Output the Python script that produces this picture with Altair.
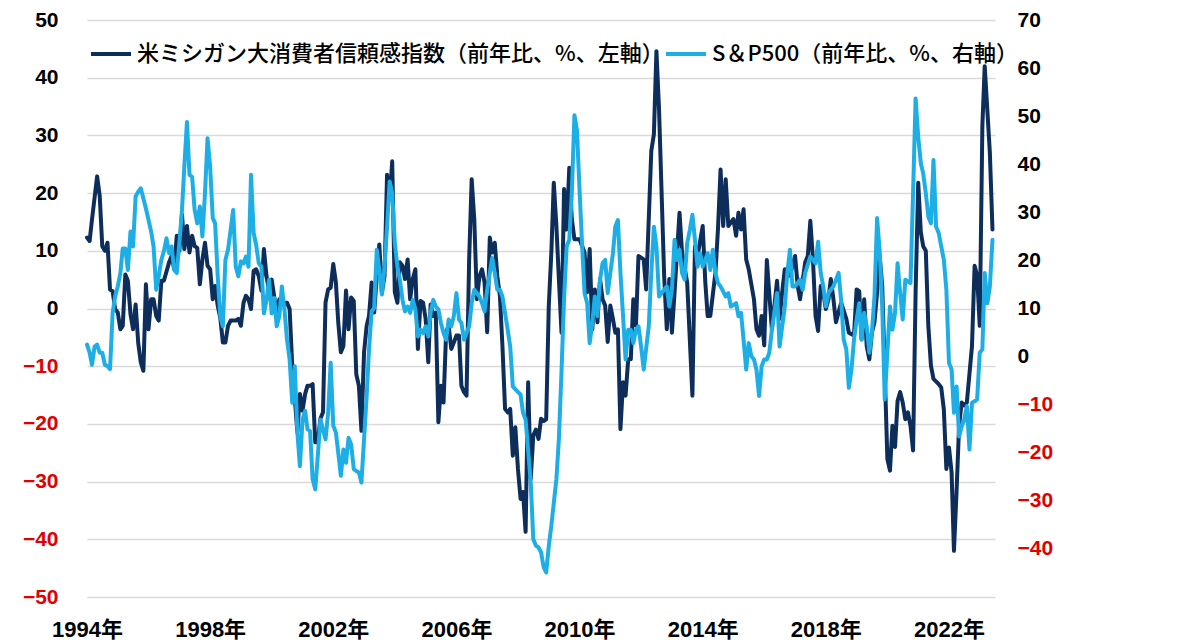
import altair as alt
import pandas as pd

MICH_LABEL = "米ミシガン大消費者信頼感指数（前年比、%、左軸）"
SPX_LABEL = "S＆P500（前年比、%、右軸）"

# (month, YoY %) – Michigan consumer sentiment (left axis)
michigan = [
    ("1994-01", 12.3), ("1994-02", 11.7), ("1994-03", 15.4), ("1994-05", 22.9), ("1994-06", 19.5),
    ("1994-07", 10.8), ("1994-08", 10.0), ("1994-09", 11.4), ("1994-10", 3.3), ("1994-11", 3.0),
    ("1994-12", -0.1), ("1995-01", -0.7), ("1995-02", -3.6), ("1995-03", -3.0), ("1995-04", 5.9),
    ("1995-05", 4.8), ("1995-06", -1.0), ("1995-07", -3.6), ("1995-08", 0.7), ("1995-09", -6.0),
    ("1995-10", -9.3), ("1995-11", -10.8), ("1995-12", 4.2), ("1996-01", -3.6), ("1996-02", 1.6),
    ("1996-03", 1.6), ("1996-04", -1.3), ("1996-05", -2.1), ("1996-06", 4.8), ("1996-07", 4.8),
    ("1996-09", 8.0), ("1996-10", 9.1), ("1996-11", 6.8), ("1996-12", 12.6), ("1997-01", 10.0),
    ("1997-02", 16.3), ("1997-03", 10.3), ("1997-04", 14.3), ("1997-05", 9.7), ("1997-06", 12.6),
    ("1997-07", 10.8), ("1997-08", 10.5), ("1997-09", 4.2), ("1997-10", 8.5), ("1997-11", 11.4),
    ("1997-12", 7.4), ("1998-01", 6.8), ("1998-02", 1.6), ("1998-03", 3.9), ("1998-04", 0.5),
    ("1998-05", -1.6), ("1998-06", -5.9), ("1998-07", -5.9), ("1998-08", -3.0), ("1998-09", -2.1),
    ("1998-11", -2.1), ("1998-12", -1.8), ("1999-01", -3.0), ("1999-02", 1.0), ("1999-03", 2.2),
    ("1999-04", 1.6), ("1999-05", -0.1), ("1999-06", 6.5), ("1999-07", 6.8), ("1999-08", 5.6),
    ("1999-09", 3.1), ("1999-10", 10.3), ("1999-11", 5.6), ("1999-12", 3.0), ("2000-01", 5.0),
    ("2000-02", 2.0), ("2000-03", -0.7), ("2000-04", 1.6), ("2000-05", 1.0), ("2000-07", 1.0),
    ("2000-08", -0.1), ("2000-09", -9.9), ("2000-11", -21.4), ("2000-12", -14.8), ("2001-01", -17.7),
    ("2001-02", -14.8), ("2001-03", -13.4), ("2001-04", -13.4), ("2001-05", -13.1), ("2001-06", -23.2),
    ("2001-07", -23.2), ("2001-08", -19.1), ("2001-09", -18.0), ("2001-10", 1.0), ("2001-11", 3.3),
    ("2001-12", 3.6), ("2002-01", 7.7), ("2002-02", 4.5), ("2002-03", -2.4), ("2002-04", -7.6),
    ("2002-05", -6.5), ("2002-06", 3.1), ("2002-07", -3.6), ("2002-08", 1.9), ("2002-09", 1.3),
    ("2002-10", -11.4), ("2002-11", -13.4), ("2002-12", -21.2), ("2003-01", -7.6), ("2003-02", -3.0),
    ("2003-03", -1.3), ("2003-04", 4.5), ("2003-05", -0.7), ("2003-06", 5.6), ("2003-07", 11.1),
    ("2003-08", 2.8), ("2003-09", 5.6), ("2003-10", 23.2), ("2003-11", 18.9), ("2003-12", 25.5),
    ("2004-01", 2.8), ("2004-02", 1.0), ("2004-03", 8.0), ("2004-04", 7.4), ("2004-05", 5.1),
    ("2004-06", 8.5), ("2004-07", 1.6), ("2004-08", 5.1), ("2004-09", 6.8), ("2004-10", -7.0),
    ("2004-11", 1.3), ("2004-12", 1.0), ("2005-01", -1.8), ("2005-02", -9.3), ("2005-03", 0.7),
    ("2005-04", -1.3), ("2005-05", -0.7), ("2005-06", -19.7), ("2005-07", -13.4), ("2005-08", -16.3),
    ("2005-09", -4.1), ("2005-10", -3.0), ("2005-11", -7.0), ("2005-12", -5.9), ("2006-01", -4.7),
    ("2006-02", -4.7), ("2006-03", -13.4), ("2006-04", -14.5), ("2006-05", -15.1), ("2006-06", 8.5),
    ("2006-07", 22.4), ("2006-08", 15.4), ("2006-09", 1.6), ("2006-10", 5.6), ("2006-11", 6.8),
    ("2006-12", 4.5), ("2007-01", -4.1), ("2007-02", 12.3), ("2007-03", 9.7), ("2007-04", 11.4),
    ("2007-05", 5.6), ("2007-06", 2.2), ("2007-07", -6.5), ("2007-08", -17.4), ("2007-09", -18.0),
    ("2007-10", -17.4), ("2007-11", -25.5), ("2007-12", -20.6), ("2008-01", -27.8), ("2008-02", -33.0),
    ("2008-03", -31.8), ("2008-04", -38.7), ("2008-05", -12.8), ("2008-06", -29.5), ("2008-07", -22.0),
    ("2008-08", -21.0), ("2008-09", -22.6), ("2008-10", -19.1), ("2008-11", -19.5), ("2008-12", -19.2),
    ("2009-01", 0.5), ("2009-02", 10.0), ("2009-03", 21.8), ("2009-04", 14.3), ("2009-05", 5.0),
    ("2009-06", -4.2), ("2009-07", 20.7), ("2009-08", 13.7), ("2009-09", 24.4), ("2009-10", 15.5),
    ("2009-11", 12.0), ("2010-01", 12.0), ("2010-03", 9.7), ("2010-04", 2.8), ("2010-05", 10.3),
    ("2010-06", -3.6), ("2010-07", 3.3), ("2010-08", -2.4), ("2010-09", 5.1), ("2010-10", 1.6),
    ("2010-11", 0.5), ("2010-12", -5.8), ("2011-01", 0.5), ("2011-02", -1.8), ("2011-03", -4.2),
    ("2011-04", -3.6), ("2011-05", -20.9), ("2011-06", -12.8), ("2011-07", -15.1), ("2011-08", -8.8),
    ("2011-09", -8.8), ("2011-10", 1.6), ("2011-11", -3.0), ("2011-12", 9.1), ("2012-02", 8.5),
    ("2012-03", 3.3), ("2012-05", 27.3), ("2012-06", 30.2), ("2012-07", 44.6), ("2012-08", 34.5),
    ("2012-10", 5.5), ("2012-11", -3.6), ("2012-12", 5.1), ("2013-01", -4.2), ("2013-02", 2.8),
    ("2013-04", 16.6), ("2013-05", 9.7), ("2013-07", 4.5), ("2013-09", -15.1), ("2013-10", 10.8),
    ("2013-11", 9.1), ("2014-01", 14.3), ("2014-02", 4.5), ("2014-03", -1.3), ("2014-04", -1.3),
    ("2014-06", 6.2), ("2014-07", 13.7), ("2014-08", 24.1), ("2014-09", 14.3), ("2014-10", 22.4),
    ("2014-11", 14.3), ("2015-01", 15.5), ("2015-02", 12.6), ("2015-03", 16.6), ("2015-04", 13.7),
    ("2015-05", 17.2), ("2015-06", 8.5), ("2015-07", 6.8), ("2015-09", 1.6), ("2015-10", -3.6),
    ("2015-11", -4.7), ("2015-12", -1.3), ("2016-01", -6.4), ("2016-02", 8.4), ("2016-04", -3.6),
    ("2016-06", 4.8), ("2016-07", -1.8), ("2016-08", 2.8), ("2016-09", 6.8), ("2016-10", 6.2),
    ("2016-11", 5.7), ("2017-01", 9.1), ("2017-02", 3.9), ("2017-03", 1.6), ("2017-05", 8.0),
    ("2017-06", 9.1), ("2017-07", 15.2), ("2017-08", 8.5), ("2017-09", -1.3), ("2017-10", -3.9),
    ("2017-11", 3.9), ("2017-12", 2.8), ("2018-01", -0.1), ("2018-02", 1.6), ("2018-03", 5.1),
    ("2018-04", 1.6), ("2018-05", -2.4), ("2018-07", 1.0), ("2018-09", -1.8), ("2018-10", -4.2),
    ("2018-12", -4.7), ("2019-01", 3.3), ("2019-02", 3.0), ("2019-03", -5.3), ("2019-04", 1.6),
    ("2019-05", -6.5), ("2019-06", -8.8), ("2019-07", -4.2), ("2019-08", -2.4), ("2019-09", 2.8),
    ("2019-10", 9.1), ("2019-11", 3.9), ("2020-01", -26.1), ("2020-02", -28.1), ("2020-03", -20.3),
    ("2020-04", -24.0), ("2020-05", -16.0), ("2020-06", -14.5), ("2020-07", -16.3), ("2020-08", -19.2),
    ("2020-09", -18.0), ("2020-10", -20.3), ("2020-11", -24.6), ("2020-12", 2.8), ("2021-01", 21.8),
    ("2021-02", 13.2), ("2021-03", 10.8), ("2021-04", 10.0), ("2021-05", -3.0), ("2021-06", -9.9),
    ("2021-07", -12.2), ("2021-09", -13.1), ("2021-10", -13.7), ("2021-11", -17.5), ("2021-12", -27.8),
    ("2022-01", -24.1), ("2022-02", -28.4), ("2022-03", -42.0), ("2022-04", -31.7), ("2022-05", -20.3),
    ("2022-06", -16.3), ("2022-07", -16.8), ("2022-08", -16.3), ("2022-10", -6.5), ("2022-11", 7.4),
    ("2022-12", 5.7), ("2023-01", -3.0), ("2023-02", 31.6), ("2023-03", 42.0), ("2023-05", 27.0),
    ("2023-06", 13.7),
]

# (month, YoY %) – S&P500 (right axis)
sp500 = [
    ("1994-01", 2.5), ("1994-02", 0.8), ("1994-03", -1.7), ("1994-04", 2.1), ("1994-05", 2.5),
    ("1994-06", 0.8), ("1994-07", 0.8), ("1994-08", -1.7), ("1994-09", -2.0), ("1994-10", -2.6),
    ("1994-11", 9.1), ("1994-12", 12.5), ("1995-01", 14.6), ("1995-02", 17.4), ("1995-03", 22.5),
    ("1995-04", 22.5), ("1995-05", 18.0), ("1995-06", 26.0), ("1995-07", 22.9), ("1995-08", 33.3),
    ("1995-09", 34.3), ("1995-10", 35.0), ("1995-12", 30.8), ("1996-01", 28.4), ("1996-02", 26.0),
    ("1996-03", 22.9), ("1996-04", 13.9), ("1996-05", 16.7), ("1996-06", 20.1), ("1996-07", 21.9),
    ("1996-08", 24.6), ("1996-09", 21.5), ("1996-10", 22.9), ("1996-11", 18.0), ("1996-12", 17.4),
    ("1997-01", 23.6), ("1997-02", 30.5), ("1997-03", 39.5), ("1997-04", 48.8), ("1997-05", 37.8),
    ("1997-06", 37.4), ("1997-07", 30.5), ("1997-08", 27.7), ("1997-09", 31.2), ("1997-10", 25.0),
    ("1997-11", 34.0), ("1997-12", 45.4), ("1998-01", 39.5), ("1998-02", 28.8), ("1998-03", 27.7),
    ("1998-04", 16.7), ("1998-05", 8.4), ("1998-06", 6.3), ("1998-07", 20.1), ("1998-08", 22.2),
    ("1998-09", 26.3), ("1998-10", 30.5), ("1998-11", 18.7), ("1998-12", 16.7), ("1999-01", 19.8),
    ("1999-02", 19.4), ("1999-03", 20.8), ("1999-04", 18.7), ("1999-05", 37.8), ("1999-06", 25.7),
    ("1999-07", 23.2), ("1999-08", 19.4), ("1999-09", 18.7), ("1999-10", 9.0), ("1999-11", 11.8),
    ("1999-12", 16.0), ("2000-01", 9.0), ("2000-02", 12.2), ("2000-03", 6.3), ("2000-04", 8.4),
    ("2000-05", 14.6), ("2000-06", 9.7), ("2000-07", 3.5), ("2000-08", -0.6), ("2000-09", -9.6),
    ("2000-10", -2.0), ("2000-11", -15.8), ("2000-12", -22.8), ("2001-01", -13.1), ("2001-02", -11.3),
    ("2001-03", -15.1), ("2001-04", -15.5), ("2001-05", -25.5), ("2001-06", -27.6), ("2001-07", -20.7),
    ("2001-08", -13.1), ("2001-10", -17.2), ("2001-11", -11.7), ("2001-12", -1.3), ("2002-01", -14.4),
    ("2002-02", -15.8), ("2002-03", -20.0), ("2002-04", -24.8), ("2002-05", -19.3), ("2002-06", -22.1),
    ("2002-07", -16.9), ("2002-08", -18.3), ("2002-09", -23.4), ("2002-10", -23.8), ("2002-11", -24.1),
    ("2002-12", -26.2), ("2003-01", -17.2), ("2003-02", -8.2), ("2003-03", 1.5), ("2003-04", 9.4),
    ("2003-05", 10.1), ("2003-06", 22.2), ("2003-07", 18.0), ("2003-08", 12.9), ("2003-09", 18.7),
    ("2003-10", 27.0), ("2003-11", 36.4), ("2003-12", 34.0), ("2004-01", 23.6), ("2004-02", 18.7),
    ("2004-03", 16.0), ("2004-04", 11.8), ("2004-05", 9.4), ("2004-06", 10.4), ("2004-07", 9.1),
    ("2004-08", 11.8), ("2004-09", 9.8), ("2004-10", 4.2), ("2004-11", 5.6), ("2004-12", 4.9),
    ("2005-01", 6.3), ("2005-02", 4.2), ("2005-03", 9.1), ("2005-04", 11.8), ("2005-05", 10.4),
    ("2005-06", 9.8), ("2005-07", 7.0), ("2005-08", 4.9), ("2005-09", 3.5), ("2005-10", 7.7),
    ("2005-11", 6.3), ("2005-12", 8.4), ("2006-01", 13.2), ("2006-02", 7.7), ("2006-03", 7.0),
    ("2006-04", 3.5), ("2006-06", 6.3), ("2006-07", 11.1), ("2006-08", 13.9), ("2006-10", 12.5),
    ("2006-11", 11.1), ("2006-12", 9.4), ("2007-01", 13.9), ("2007-03", 20.5), ("2007-04", 17.4),
    ("2007-05", 13.9), ("2007-06", 13.9), ("2007-07", 12.5), ("2007-09", 5.6), ("2007-10", 2.1),
    ("2007-11", -6.2), ("2007-12", -6.8), ("2008-02", -7.9), ("2008-03", -11.7), ("2008-04", -13.1),
    ("2008-06", -26.2), ("2008-07", -38.0), ("2008-08", -39.3), ("2008-09", -39.7), ("2008-10", -40.7),
    ("2008-11", -43.8), ("2008-12", -44.9), ("2009-01", -39.4), ("2009-02", -35.0), ("2009-04", -25.5),
    ("2009-05", -17.0), ("2009-06", -3.0), ("2009-07", 12.0), ("2009-08", 22.9), ("2009-09", 24.3),
    ("2009-10", 34.0), ("2009-11", 50.2), ("2009-12", 47.1), ("2010-01", 34.6), ("2010-02", 22.9),
    ("2010-03", 13.2), ("2010-04", 11.1), ("2010-05", 2.8), ("2010-06", 7.0), ("2010-07", 12.5),
    ("2010-08", 8.4), ("2010-09", 16.0), ("2010-10", 19.4), ("2010-11", 20.1), ("2010-12", 13.2),
    ("2011-01", 17.4), ("2011-02", 21.5), ("2011-03", 27.0), ("2011-04", 28.4), ("2011-05", 17.4),
    ("2011-06", 8.4), ("2011-07", -0.6), ("2011-08", 5.6), ("2011-09", 5.6), ("2011-10", 2.8),
    ("2011-11", 5.6), ("2011-12", 6.3), ("2012-01", 2.1), ("2012-02", -2.7), ("2012-04", 6.3),
    ("2012-05", 17.4), ("2012-06", 27.0), ("2012-07", 22.9), ("2012-08", 12.5), ("2012-09", 13.2),
    ("2012-10", 13.9), ("2012-11", 14.6), ("2012-12", 10.4), ("2013-01", 14.0), ("2013-02", 24.3),
    ("2013-03", 20.1), ("2013-04", 22.2), ("2013-05", 17.4), ("2013-06", 16.0), ("2013-07", 23.6),
    ("2013-08", 26.3), ("2013-09", 29.5), ("2013-10", 24.3), ("2013-11", 18.7), ("2013-12", 21.5),
    ("2014-01", 18.7), ("2014-02", 20.1), ("2014-03", 21.5), ("2014-04", 18.0), ("2014-05", 22.2),
    ("2014-06", 17.4), ("2014-07", 15.3), ("2014-08", 14.6), ("2014-10", 12.5), ("2014-11", 13.2),
    ("2014-12", 10.4), ("2015-02", 11.1), ("2015-03", 8.4), ("2015-04", 9.1), ("2015-05", 3.5),
    ("2015-06", -2.7), ("2015-07", 2.8), ("2015-08", 0.1), ("2015-09", -0.6), ("2015-10", -2.7),
    ("2015-11", -8.2), ("2015-12", -2.0), ("2016-01", -0.6), ("2016-02", -0.6), ("2016-03", 0.8),
    ("2016-04", 5.6), ("2016-06", 13.2), ("2016-07", 2.1), ("2016-09", 10.4), ("2016-10", 17.4),
    ("2016-11", 22.2), ("2016-12", 14.6), ("2017-01", 14.6), ("2017-03", 16.0), ("2017-04", 13.9),
    ("2017-05", 17.4), ("2017-07", 20.8), ("2017-08", 20.1), ("2017-09", 19.4), ("2017-10", 23.9),
    ("2017-11", 17.4), ("2017-12", 14.6), ("2018-01", 10.4), ("2018-02", 13.2), ("2018-03", 13.9),
    ("2018-04", 14.6), ("2018-06", 17.4), ("2018-07", 11.8), ("2018-08", 3.5), ("2018-09", 1.5),
    ("2018-10", -6.5), ("2018-11", -2.7), ("2018-12", 3.5), ("2019-01", 7.7), ("2019-02", 11.1),
    ("2019-03", 3.5), ("2019-04", 9.1), ("2019-05", 6.3), ("2019-06", 0.8), ("2019-07", 4.9),
    ("2019-08", 12.5), ("2019-09", 28.8), ("2019-10", 22.2), ("2019-11", 10.4), ("2019-12", -8.9),
    ("2020-01", 0.8), ("2020-02", 10.4), ("2020-03", 5.6), ("2020-04", 9.1), ("2020-05", 19.4),
    ("2020-06", 13.2), ("2020-07", 7.7), ("2020-08", 16.0), ("2020-09", 15.6), ("2020-10", 15.3),
    ("2020-11", 34.0), ("2020-12", 53.7), ("2021-01", 45.7), ("2021-02", 40.2), ("2021-03", 38.1),
    ("2021-04", 34.0), ("2021-05", 29.1), ("2021-06", 27.7), ("2021-07", 40.9), ("2021-08", 27.0),
    ("2021-09", 25.7), ("2021-11", 20.1), ("2021-12", 13.9), ("2022-01", -1.3), ("2022-02", -2.7),
    ("2022-03", -11.7), ("2022-04", -6.2), ("2022-05", -16.6), ("2022-06", -14.5), ("2022-07", -13.1),
    ("2022-08", -10.3), ("2022-09", -19.3), ("2022-10", -9.6), ("2022-11", -9.3), ("2022-12", -8.9),
    ("2023-01", 0.8), ("2023-02", 1.5), ("2023-03", 17.4), ("2023-04", 11.1), ("2023-05", 14.6),
    ("2023-06", 24.3),
]

left_ticks = [-50, -40, -30, -20, -10, 0, 10, 20, 30, 40, 50]
right_ticks = [-40, -30, -20, -10, 0, 10, 20, 30, 40, 50, 60, 70]
label_years = [1994, 1998, 2002, 2006, 2010, 2014, 2018, 2022]

NAVY = "#0d2d5b"
SKY = "#1eaee6"
RED = "#e00000"

df_m = pd.DataFrame(michigan, columns=["date", "value"])
df_m["date"] = pd.to_datetime(df_m["date"] + "-01")
df_m["series"] = MICH_LABEL
df_s = pd.DataFrame(sp500, columns=["date", "value"])
df_s["date"] = pd.to_datetime(df_s["date"] + "-01")
df_s["series"] = SPX_LABEL

num_font = "Liberation Sans, Noto Sans CJK JP"
neg_red = alt.condition("datum.value < 0", alt.value(RED), alt.value("black"))

x_enc = alt.X(
    "date:T",
    title=None,
    scale=alt.Scale(domain=[alt.DateTime(year=1994, month=1, date=1),
                            alt.DateTime(year=2023, month=7, date=1)]),
    axis=alt.Axis(
        values=[alt.DateTime(year=y, month=1, date=1) for y in label_years],
        format="%Y年", grid=False, domain=False, ticks=False, tickSize=0,
        labelFont=num_font, labelFontSize=22, labelFontWeight="bold",
        labelColor="black", labelPadding=22, labelAlign="center",
        labelOverlap=False, labelFlush=False,
    ),
)

color_enc = alt.Color(
    "series:N",
    scale=alt.Scale(domain=[MICH_LABEL, SPX_LABEL], range=[NAVY, SKY]),
    legend=alt.Legend(
        title=None, orient="none", legendX=2, legendY=12, direction="horizontal",
        symbolType="stroke", symbolSize=1600, symbolStrokeWidth=4,
        labelFont="Noto Sans CJK JP", labelFontSize=22, labelFontWeight=500,
        labelColor="black", labelLimit=2000, labelOffset=4, columnPadding=-26, padding=0,
    ),
)

left_line = alt.Chart(df_m).mark_line(strokeWidth=4, strokeJoin="round", strokeCap="round").encode(
    x=x_enc,
    y=alt.Y(
        "value:Q", title=None,
        scale=alt.Scale(domain=[-50, 50], nice=False, zero=False),
        axis=alt.Axis(
            orient="left", values=left_ticks, grid=True, gridColor="#d9d9d9", gridWidth=1.5,
            domain=False, ticks=False, tickSize=0, labelPadding=29,
            labelFont=num_font, labelFontSize=21, labelFontWeight="bold",
            labelColor=neg_red,
        ),
    ),
    color=color_enc,
)

right_line = alt.Chart(df_s).mark_line(strokeWidth=4, strokeJoin="round", strokeCap="round").encode(
    x=x_enc,
    y=alt.Y(
        "value:Q", title=None,
        scale=alt.Scale(domain=[-50, 70], nice=False, zero=False),
        axis=alt.Axis(
            orient="right", values=right_ticks, grid=False,
            domain=False, ticks=False, tickSize=0, labelPadding=22,
            labelFont=num_font, labelFontSize=21, labelFontWeight="bold",
            labelColor=neg_red,
        ),
    ),
    color=color_enc,
)

chart = (
    alt.layer(left_line, right_line)
    .resolve_scale(y="independent")
    .properties(
        width=908, height=577,
        autosize=alt.AutoSizeParams(type="none"),
        padding={"left": 79, "top": 12, "right": 197, "bottom": 43},
        background="white",
    )
    .configure_view(stroke=None)
)

chart.save("out.html", embed_options={"renderer": "svg", "actions": False})
